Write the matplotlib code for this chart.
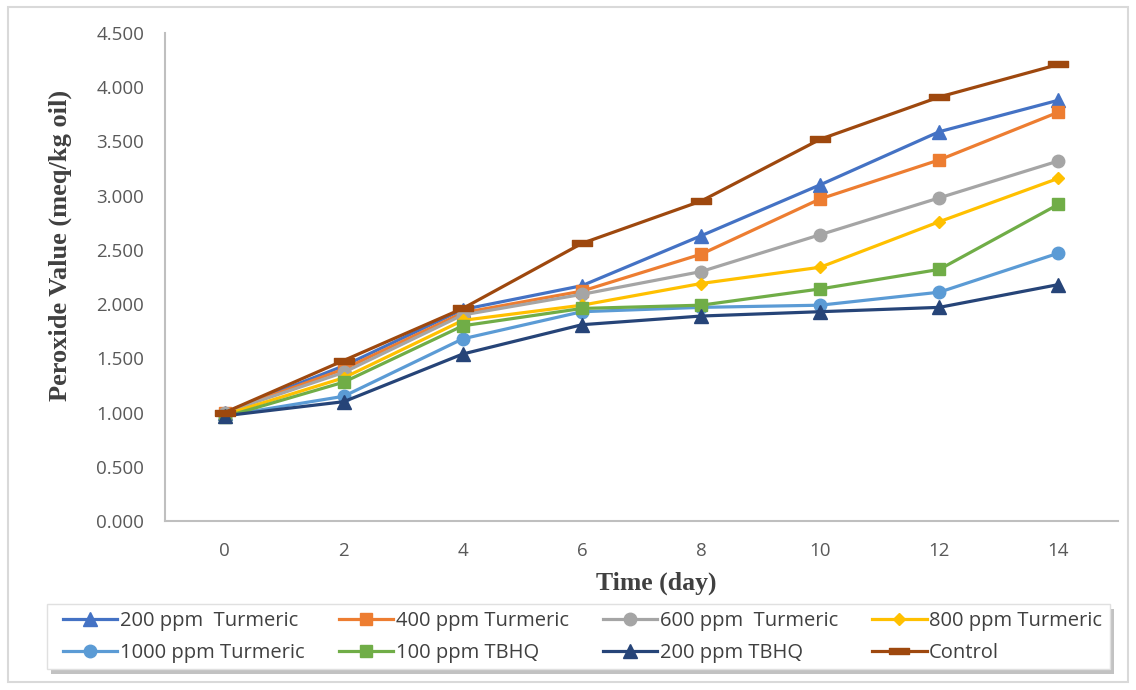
import matplotlib
matplotlib.use("Agg")
import matplotlib.pyplot as plt
from matplotlib.patches import Rectangle
from matplotlib.ticker import FuncFormatter

days = [0, 2, 4, 6, 8, 10, 12, 14]
labels = ["200 ppm  Turmeric", "400 ppm Turmeric", "600 ppm  Turmeric", "800 ppm Turmeric",
          "1000 ppm Turmeric", "100 ppm TBHQ", "200 ppm TBHQ", "Control"]
t200 = [1.00, 1.43, 1.95, 2.17, 2.63, 3.10, 3.59, 3.88]
t400 = [1.00, 1.40, 1.92, 2.12, 2.46, 2.97, 3.33, 3.77]
t600 = [1.00, 1.37, 1.90, 2.09, 2.30, 2.64, 2.98, 3.32]
t800 = [0.98, 1.32, 1.85, 1.99, 2.19, 2.34, 2.76, 3.16]
t1000 = [0.97, 1.15, 1.68, 1.93, 1.97, 1.99, 2.11, 2.47]
tbhq100 = [0.96, 1.28, 1.80, 1.96, 1.99, 2.14, 2.32, 2.92]
tbhq200 = [0.97, 1.10, 1.54, 1.81, 1.89, 1.93, 1.97, 2.18]
control = [1.00, 1.48, 1.96, 2.56, 2.95, 3.52, 3.91, 4.21]
series = [t200, t400, t600, t800, t1000, tbhq100, tbhq200, control]

colors = ["#4472C4", "#ED7D31", "#A5A5A5", "#FFC000", "#5B9BD5", "#70AD47", "#264478", "#9E480E"]
dash = [(-1, -0.28), (1, -0.28), (1, 0.28), (-1, 0.28), (-1, -0.28)]
markers = ["^", "s", "o", "D", "o", "s", "^", dash]
msizes = [10, 9, 9, 6.5, 9, 9, 10, 14]

sans = ["Open Sans", "DejaVu Sans"]
serif = ["Liberation Serif", "DejaVu Serif"]

fig = plt.figure(figsize=(11.36, 6.9), dpi=100)
fig.patch.set_facecolor("white")
fig.add_artist(Rectangle((8/1136, 8/690), 1120/1136, 675/690, transform=fig.transFigure,
                         fill=False, edgecolor="#D9D9D9", linewidth=1.5))

ax = fig.add_axes([165/1136, 1-521/690, (1118-165)/1136, (521-33)/690])
xpos = list(range(len(days)))
handles = []
for s, lab, c, m, ms in zip(series, labels, colors, markers, msizes):
    h, = ax.plot(xpos, s, color=c, linewidth=2.3, marker=m, markersize=ms,
                 markerfacecolor=c, markeredgecolor=c, label=lab)
    handles.append(h)

ax.set_xlim(-0.5, len(days) - 0.5)
ax.set_ylim(0, 4.5)
ax.set_xticks(xpos)
ax.set_xticklabels([str(d) for d in days])
ax.set_yticks([i * 0.5 for i in range(10)])
ax.yaxis.set_major_formatter(FuncFormatter(lambda v, p: f"{v:.3f}"))
for side in ["top", "right"]:
    ax.spines[side].set_visible(False)
for side in ["left", "bottom"]:
    ax.spines[side].set_color("#BFBFBF")
    ax.spines[side].set_linewidth(1.5)
ax.tick_params(axis="both", length=0, labelsize=13.5, labelcolor="#595959")
ax.tick_params(axis="y", pad=15)
ax.tick_params(axis="x", pad=15)
for t in ax.get_xticklabels() + ax.get_yticklabels():
    t.set_family(sans)

ax.set_ylabel("Peroxide Value (meq/kg oil)", family=serif,
              fontweight="bold", fontsize=19, color="#404040")
ax.yaxis.set_label_coords((72 - 165) / 953, (521 - 245) / 488)
ax.set_xlabel("Time (day)", family=serif,
              fontweight="bold", fontsize=18.5, color="#404040")
ax.xaxis.set_label_coords((656 - 165) / 953, (521 - 572) / 488)

# legend box with shadow
x0, x1, y0, y1 = 47, 1110, 604, 669
fig.add_artist(Rectangle(((x0 + 4) / 1136, 1 - (y1 + 5) / 690), (x1 - x0) / 1136, (y1 - y0) / 690,
                         transform=fig.transFigure, facecolor="#9A9A9A", edgecolor="none", alpha=0.6))
fig.add_artist(Rectangle((x0 / 1136, 1 - y1 / 690), (x1 - x0) / 1136, (y1 - y0) / 690,
                         transform=fig.transFigure, facecolor="white", edgecolor="#E0E0E0", linewidth=1))

order = [0, 4, 1, 5, 2, 6, 3, 7]
leg = fig.legend([handles[i] for i in order], [labels[i] for i in order],
                 loc="center", bbox_to_anchor=(63 / 1136, 1 - 668 / 690, (1102 - 63) / 1136, 62 / 690),
                 mode="expand", ncol=4, frameon=False, handlelength=2.7,
                 handletextpad=0.12, borderpad=0.0, borderaxespad=0.0, labelspacing=0.6,
                 prop={"family": sans, "size": 14.5})
for t in leg.get_texts():
    t.set_color("#404040")

fig.savefig("out.png", dpi=100)
